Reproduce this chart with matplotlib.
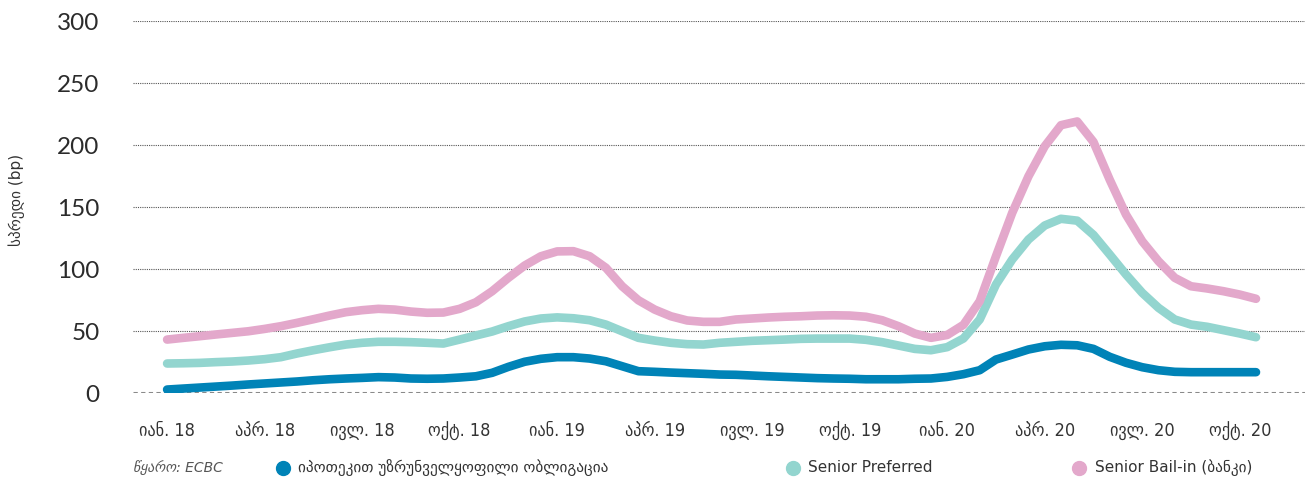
import numpy as np
import matplotlib
matplotlib.use("Agg")
from matplotlib import pyplot as plt
from matplotlib.lines import Line2D

plt.rcParams['font.family'] = ['DejaVu Sans']

# half-month steps starting Jan 2018
months = np.arange(0, 34, 0.5)

covered = [2.8, 3.6, 4.4, 5.2, 6.0, 6.9, 7.7, 8.5, 9.3, 10.3,
           11.1, 11.7, 12.2, 12.8, 12.5, 11.7, 11.5, 11.7, 12.5, 13.5,
           16.3, 21.1, 25.2, 27.6, 28.9, 28.9, 27.8, 25.6, 21.6, 17.6,
           17.1, 16.5, 16.0, 15.5, 14.9, 14.7, 14.1, 13.5, 13.0, 12.5,
           12.0, 11.7, 11.5, 11.1, 11.1, 11.1, 11.5, 11.7, 13.0, 15.2,
           18.4, 27.0, 31.0, 35.1, 37.7, 38.9, 38.5, 35.6, 29.2, 24.4,
           20.8, 18.4, 17.1, 16.8, 16.8, 16.8, 16.8, 16.8]

senior_pref = [23.8, 24.0, 24.3, 24.9, 25.4, 26.2, 27.3, 28.9, 31.9, 34.5,
               36.9, 39.1, 40.5, 41.3, 41.3, 41.0, 40.5, 39.9, 43.1, 46.4,
               49.6, 53.9, 57.7, 60.1, 61.0, 60.3, 58.7, 55.2, 49.8, 44.5,
               42.3, 40.5, 39.4, 39.1, 40.5, 41.3, 42.1, 42.6, 43.1, 43.7,
               43.9, 43.9, 43.9, 42.9, 41.0, 38.3, 35.6, 34.5, 37.0, 44.0,
               59.3, 87.5, 107.7, 123.8, 135.1, 140.5, 139.0, 127.5, 111.7, 95.6,
               80.8, 68.7, 59.3, 55.2, 53.4, 50.7, 48.0, 45.0]

senior_bail = [43.1, 44.5, 45.8, 47.2, 48.5, 49.8, 51.7, 53.9, 56.6, 59.5,
               62.5, 65.2, 66.8, 67.9, 67.3, 65.7, 64.7, 64.9, 67.9, 73.2,
               82.1, 92.9, 102.8, 110.3, 114.2, 114.4, 110.3, 101.0, 86.1, 74.8,
               67.3, 61.9, 58.5, 57.4, 57.4, 59.3, 60.1, 60.9, 61.5, 61.9,
               62.5, 62.7, 62.5, 61.5, 58.7, 53.9, 48.0, 44.5, 46.8, 55.0,
               74.0, 110.3, 145.3, 174.8, 199.0, 216.0, 219.0, 202.5, 172.0, 143.9,
               122.4, 106.3, 92.9, 86.1, 84.3, 82.1, 79.4, 76.0]

tick_pos = [0, 3, 6, 9, 12, 15, 18, 21, 24, 27, 30, 33]
tick_labels = ['იან. 18', 'აპრ. 18', 'ივლ. 18', 'ოქტ. 18', 'იან. 19', 'აპრ. 19',
               'ივლ. 19', 'ოქტ. 19', 'იან. 20', 'აპრ. 20', 'ივლ. 20', 'ოქტ. 20']

series_names = ['იპოთეკით უზრუნველყოფილი ობლიგაცია', 'Senior Preferred',
                'Senior Bail-in (ბანკი)']
colors = ['#0083b7', '#93d5cf', '#e3a8cb']

fig = plt.figure(figsize=(13.1, 4.79), dpi=100)
ax = fig.add_axes([0.1015, 0.1795, 0.8945, 0.7766])

for i, vals in enumerate([covered, senior_pref, senior_bail]):
    ax.plot(months, vals, color=colors[i], lw=6.2, solid_capstyle='round',
            solid_joinstyle='round', zorder=3 + i)

ax.set_xlim(-1.05, 35.0)
ax.set_ylim(0, 300)

# dotted grid, heavier dashes on the zero line
for yv in [50, 100, 150, 200, 250, 300]:
    ax.axhline(yv, color='#555555', lw=0.8, ls=(0, (1, 1)), zorder=1)
ax.axhline(0, color='#8a8a8a', lw=2.2, ls=(0, (1.4, 1.1)), zorder=1)

for s in ax.spines.values():
    s.set_visible(False)

ax.set_yticks([0, 50, 100, 150, 200, 250, 300])
ax.set_yticklabels(['0', '50', '100', '150', '200', '250', '300'],
                   fontsize=17.5, color='#2b2b2b', family='Lato')
ax.set_xticks(tick_pos)
ax.set_xticklabels(tick_labels, fontsize=13, color='#333333',
                   family=['DejaVu Sans'], fontstretch='condensed')
ax.tick_params(axis='y', length=0, pad=24)
ax.tick_params(axis='x', length=0, pad=21)

fig.text(0.013, 0.582, 'სპრედი (bp)', rotation=90, fontsize=11,
         color='#333333', ha='center', va='center')

# bottom row: source and legend
fig.text(0.1015, 0.023, 'წყარო: ECBC', fontsize=10, style='italic',
         color='#555555', ha='left', va='center')
legend_x = [0.216, 0.605, 0.824]
for i, name in enumerate(series_names):
    fig.add_artist(Line2D([legend_x[i]], [0.024], marker='o', markersize=10,
                          color=colors[i], transform=fig.transFigure))
    fig.text(legend_x[i] + 0.0115, 0.023, name, fontsize=11, color='#333333',
             ha='left', va='center')

fig.savefig('out.png', dpi=100)
